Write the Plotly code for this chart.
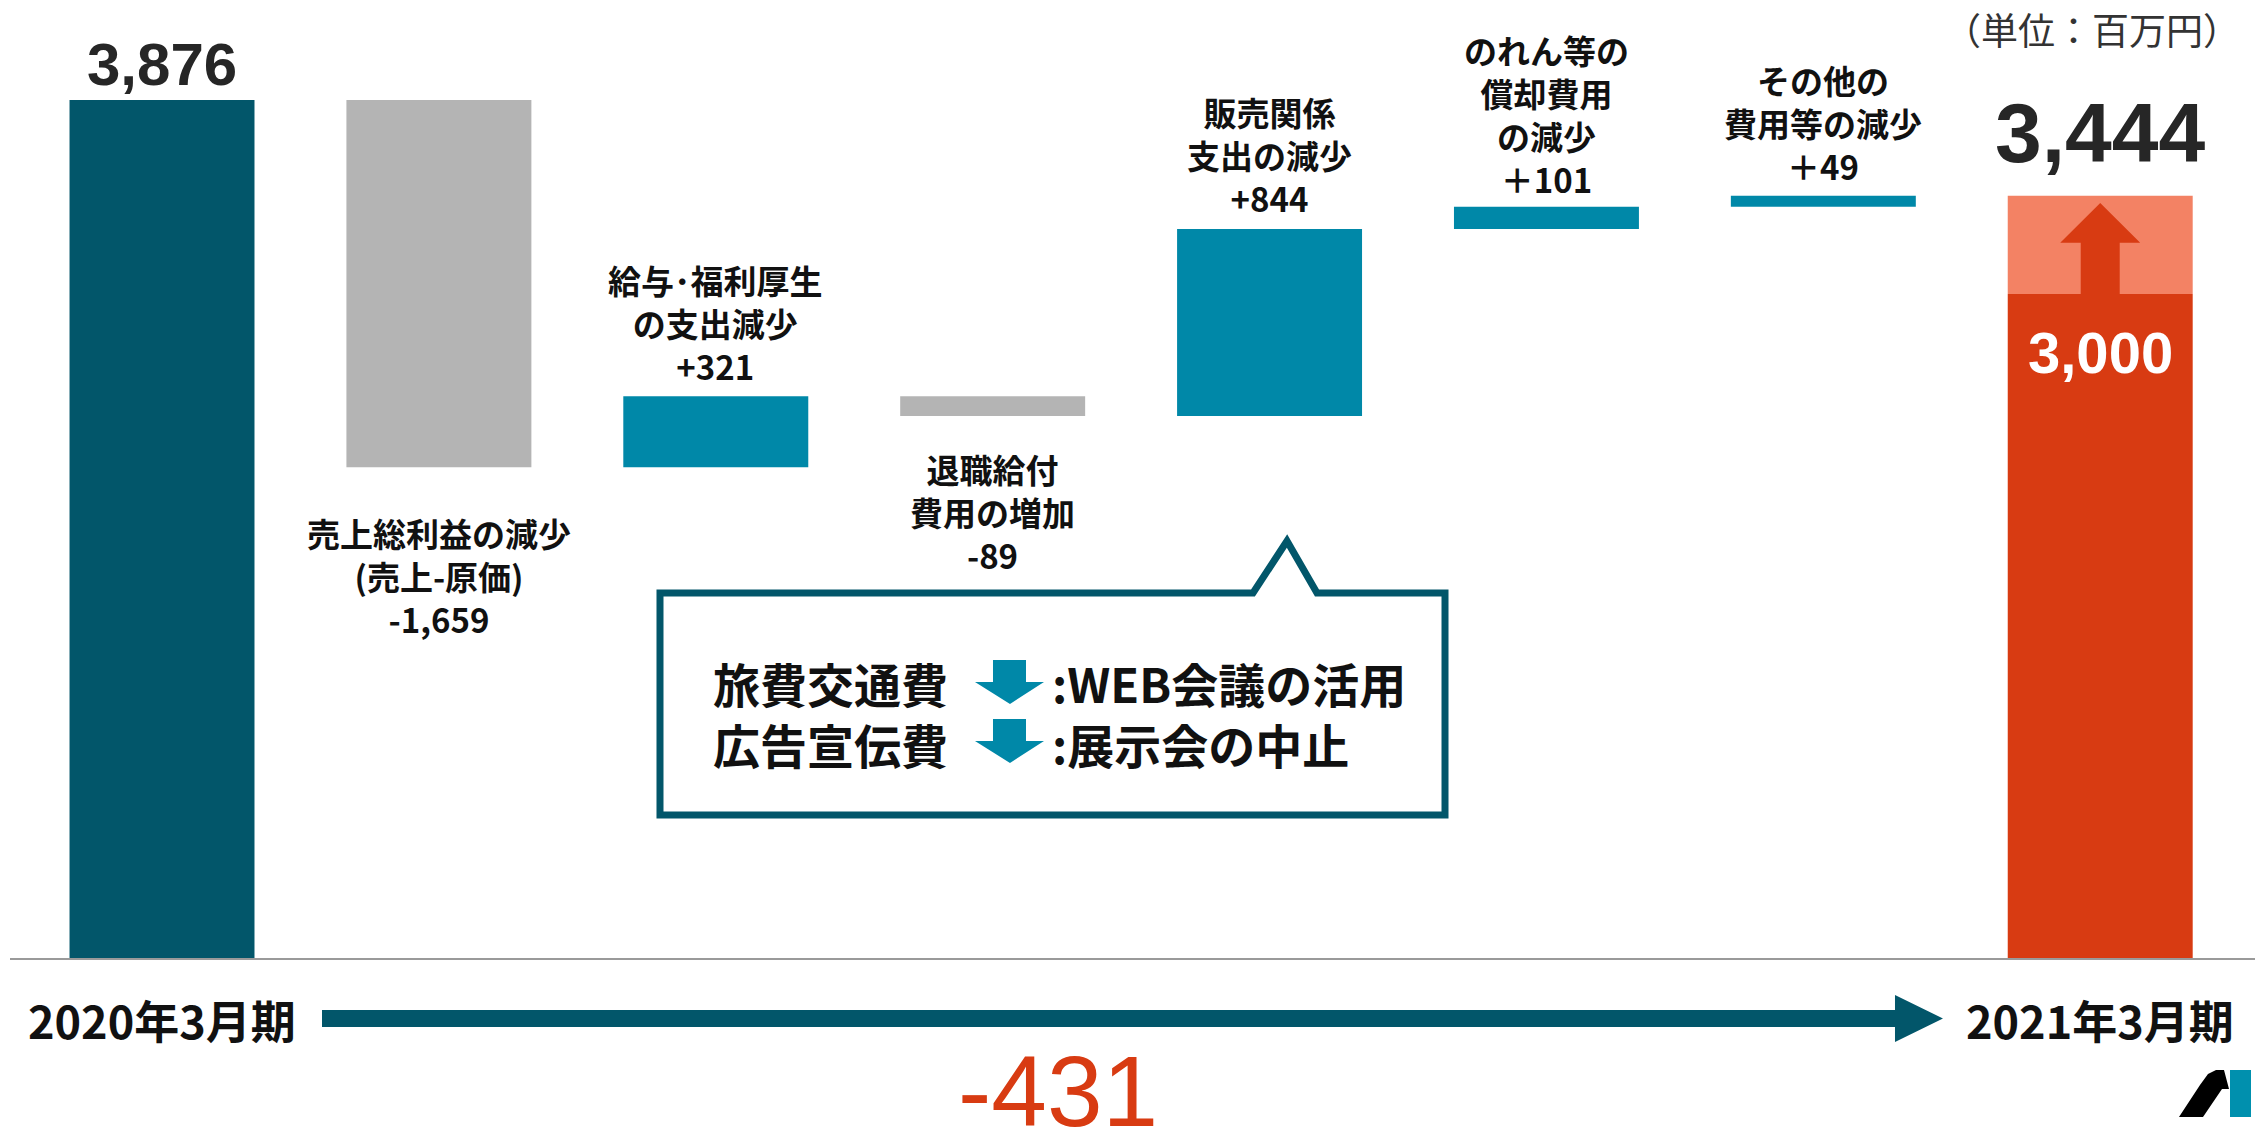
import plotly.graph_objects as go

# ---------------------------------------------------------------------------
# Data
# ---------------------------------------------------------------------------
categories = [
    "2020年3月期", "売上総利益の減少", "給与･福利厚生の支出減少", "退職給付費用の増加",
    "販売関係支出の減少", "のれん等の償却費用の減少", "その他の費用等の減少", "2021年3月期",
]
start_value = 3876
deltas = [-1659, 321, -89, 844, 101, 49]
end_value = 3444
target_value = 3000
delta_labels = [
    "売上総利益の減少<br>(売上-原価)<br>-1,659",
    "給与･福利厚生<br>の支出減少<br>+321",
    "退職給付<br>費用の増加<br>-89",
    "販売関係<br>支出の減少<br>+844",
    "のれん等の<br>償却費用<br>の減少<br>＋101",
    "その他の<br>費用等の減少<br>＋49",
]
total_change = "-431"
cost_items = ["旅費交通費", "広告宣伝費"]
cost_notes = [":WEB会議の活用", ":展示会の中止"]
unit_text = "（単位：百万円）"

# ---------------------------------------------------------------------------
# Style
# ---------------------------------------------------------------------------
COLORS = {
    "start": "#02566A",
    "up": "#0088A8",
    "down": "#B4B4B4",
    "end": "#D83B12",
    "end_light": "#F38264",
    "text": "#111111",
    "number": "#262626",
    "axis": "#9A9A9A",
}
JP = "Noto Sans CJK JP"
NUM = "Liberation Sans, Arial, sans-serif"

W, H = 2255, 1132
ML, MB = 10, 174
PW, PH = W - ML, H - MB
PX_PER_UNIT = 858 / start_value
Y_TOP = PH / PX_PER_UNIT
BAR_W = 0.668


def px(x):
    return (x - ML) / PW


def py(y):
    return (PH - y) / PH


def poly(points, conv=True):
    if conv:
        points = [(px(x), py(y)) for x, y in points]
    return "M " + " L ".join(f"{x:.5f},{y:.5f}" for x, y in points) + " Z"


# running totals for the floating bars
levels = [start_value]
for d in deltas:
    levels.append(levels[-1] + d)
bases = [min(levels[i], levels[i + 1]) for i in range(len(deltas))]
heights = [abs(d) for d in deltas]
delta_colors = [COLORS["up"] if d > 0 else COLORS["down"] for d in deltas]

fig = go.Figure()

fig.add_trace(go.Bar(
    x=[categories[0]], y=[start_value], width=BAR_W,
    marker=dict(color=COLORS["start"], line=dict(width=0)),
    hoverinfo="skip",
))
fig.add_trace(go.Bar(
    x=categories[1:-1], y=heights, base=bases, width=BAR_W,
    marker=dict(color=delta_colors, line=dict(width=0)),
    hoverinfo="skip",
))
fig.add_trace(go.Bar(
    x=[categories[-1]], y=[target_value], width=BAR_W,
    marker=dict(color=COLORS["end"], line=dict(width=0)),
    hoverinfo="skip",
))
fig.add_trace(go.Bar(
    x=[categories[-1]], y=[end_value - target_value], base=[target_value], width=BAR_W,
    marker=dict(color=COLORS["end_light"], line=dict(width=0)),
    hoverinfo="skip",
))

annotations = []

# big totals
annotations.append(dict(
    x=categories[0], y=start_value, yanchor="bottom", yshift=0, showarrow=False,
    text="<b>3,876</b>", font=dict(family=NUM, size=60, color=COLORS["number"]),
))
annotations.append(dict(
    x=categories[-1], y=end_value, yanchor="bottom", yshift=14, showarrow=False,
    text="<b>3,444</b>", font=dict(family=NUM, size=84, color=COLORS["number"]),
))
annotations.append(dict(
    x=categories[-1], y=target_value, yanchor="middle", yshift=-59, showarrow=False,
    text="<b>3,000</b>", font=dict(family=NUM, size=58, color="white"),
))

# step labels
label_gap = [40, 4, 27, 5, 2, 4]
for i, d in enumerate(deltas):
    if d > 0:
        y, anchor, shift = levels[i + 1], "bottom", label_gap[i]
    else:
        y, anchor, shift = levels[i + 1], "top", -label_gap[i]
    annotations.append(dict(
        x=categories[i + 1], y=y, yanchor=anchor, yshift=shift, showarrow=False,
        text="<b>" + delta_labels[i] + "</b>", align="center",
        font=dict(family=JP, size=33, color=COLORS["text"]),
    ))

# unit
annotations.append(dict(
    xref="paper", yref="paper", x=px(2092), y=py(29), xanchor="center", yanchor="middle",
    showarrow=False, text=unit_text, font=dict(family=JP, size=37, color="#333333"),
))

# period labels under the axis
for cat in (categories[0], categories[-1]):
    annotations.append(dict(
        x=cat, xanchor="center", yref="paper", y=py(1020), yanchor="middle", showarrow=False,
        text="<b>" + cat + "</b>", font=dict(family=JP, size=45, color=COLORS["text"]),
    ))
annotations.append(dict(
    xref="paper", yref="paper", x=px(1058), y=py(1091), xanchor="center", yanchor="middle",
    showarrow=False, text=total_change, font=dict(family=NUM, size=100, color=COLORS["end"]),
))

# callout text: one block for the items, one for the notes
annotations.append(dict(
    xref="paper", yref="paper", x=px(950), y=py(713), xanchor="right", yanchor="middle",
    align="right", showarrow=False, text="<b>" + "<br>".join(cost_items) + "</b>",
    font=dict(family=JP, size=47, color=COLORS["text"]),
))
annotations.append(dict(
    xref="paper", yref="paper", x=px(1050), y=py(713), xanchor="left", yanchor="middle",
    align="left", showarrow=False, text="<b>" + "<br>".join(cost_notes) + "</b>",
    font=dict(family=JP, size=47, color=COLORS["text"]),
))

shapes = []

# speech bubble
bubble = [(660, 593), (1253, 593), (1287, 541), (1317, 593), (1445, 593), (1445, 815), (660, 815)]
shapes.append(dict(type="path", xref="paper", yref="paper", path=poly(bubble),
                   line=dict(color=COLORS["start"], width=7), fillcolor="white", layer="above"))

# small down arrows in the bubble
for k in range(len(cost_items)):
    top = 660 + 59 * k
    arrow = [(993, top), (1026, top), (1026, top + 22), (1044, top + 22), (1010, top + 44),
             (975, top + 22), (993, top + 22)]
    shapes.append(dict(type="path", xref="paper", yref="paper", path=poly(arrow),
                       line=dict(width=0), fillcolor=COLORS["up"], layer="above"))

# timeline arrow
tl = [(322, 1010), (1895, 1010), (1895, 995), (1943, 1018.5), (1895, 1042), (1895, 1027), (322, 1027)]
shapes.append(dict(type="path", xref="paper", yref="paper", path=poly(tl),
                   line=dict(width=0), fillcolor=COLORS["start"], layer="above"))

# up arrow inside the final bar (data coordinates)
seg = end_value - target_value
xc = len(categories) - 1
sw, hw = 19.5 / 277, 40 / 277
up = [(xc - sw, target_value), (xc - sw, target_value + 0.52 * seg), (xc - hw, target_value + 0.52 * seg),
      (xc, target_value + 0.925 * seg), (xc + hw, target_value + 0.52 * seg),
      (xc + sw, target_value + 0.52 * seg), (xc + sw, target_value)]
shapes.append(dict(type="path", xref="x", yref="y", path=poly(up, conv=False),
                   line=dict(width=0), fillcolor=COLORS["end"], layer="above"))

# logo
shapes.append(dict(type="rect", xref="paper", yref="paper",
                   x0=px(2230), x1=px(2251), y0=py(1117), y1=py(1070),
                   line=dict(width=0), fillcolor="#0090AE"))
logo = [(2179, 1117), (2203, 1117), (2222, 1089), (2229, 1089), (2224, 1070), (2216, 1070),
        (2208, 1074), (2200, 1085)]
shapes.append(dict(type="path", xref="paper", yref="paper", path=poly(logo),
                   line=dict(width=0), fillcolor="black"))

fig.update_layout(
    width=W, height=H,
    barmode="overlay",
    showlegend=False,
    paper_bgcolor="white",
    plot_bgcolor="white",
    margin=dict(l=ML, r=0, t=0, b=MB, pad=0),
    xaxis=dict(
        type="category", categoryorder="array", categoryarray=categories,
        range=[-0.549, 7.559], showticklabels=False, ticks="", showgrid=False,
        zeroline=False, showline=True, linecolor=COLORS["axis"], linewidth=2, fixedrange=True,
    ),
    yaxis=dict(range=[0, Y_TOP], visible=False, showgrid=False, zeroline=False, fixedrange=True),
    annotations=annotations,
    shapes=shapes,
)

fig.write_html(
    "out.html",
    config={"displayModeBar": False},
    post_script="document.body.style.margin='0';document.body.style.overflow='hidden';",
)
